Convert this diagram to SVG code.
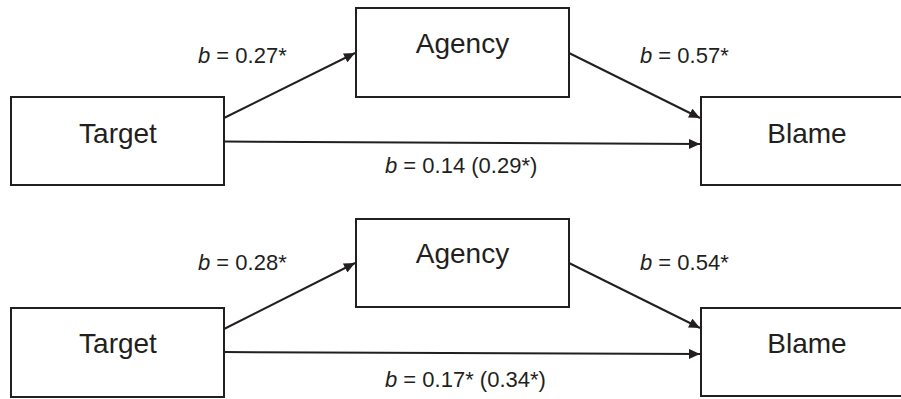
<svg xmlns="http://www.w3.org/2000/svg" width="901" height="399" viewBox="0 0 901 399">
<style>
.box{fill:#fff;stroke:#231f20;stroke-width:2}
.nt{font-family:"Liberation Sans",Arial,sans-serif;font-size:28px;fill:#231f20;text-anchor:middle}
.lb{font-family:"Liberation Sans",Arial,sans-serif;font-size:22px;fill:#231f20}
.ar{stroke:#231f20;stroke-width:2;fill:none;marker-end:url(#ah)}
</style>
<defs>
<marker id="ah" markerUnits="userSpaceOnUse" markerWidth="12" markerHeight="10" refX="11" refY="5" orient="auto">
<path d="M0,0 L11,5 L0,10 z" fill="#231f20"/>
</marker>
</defs>
<rect width="901" height="399" fill="#fff"/>
<g id="connectors">
<line class="ar" x1="224" y1="118" x2="355" y2="53"/>
<line class="ar" x1="224" y1="141.5" x2="700" y2="144"/>
<line class="ar" x1="569" y1="53" x2="700" y2="118"/>
<line class="ar" x1="224" y1="329" x2="355" y2="263"/>
<line class="ar" x1="224" y1="352" x2="700" y2="354"/>
<line class="ar" x1="569" y1="263" x2="700" y2="328"/>
</g>
<g id="labels">
<text class="lb" x="198" y="63"><tspan font-style="italic">b</tspan> = 0.27*</text>
<text class="lb" x="640" y="63"><tspan font-style="italic">b</tspan> = 0.57*</text>
<text class="lb" x="385" y="173"><tspan font-style="italic">b</tspan> = 0.14 (0.29*)</text>
<text class="lb" x="198" y="270"><tspan font-style="italic">b</tspan> = 0.28*</text>
<text class="lb" x="640" y="270"><tspan font-style="italic">b</tspan> = 0.54*</text>
<text class="lb" x="385" y="387"><tspan font-style="italic">b</tspan> = 0.17* (0.34*)</text>
</g>
<g id="target1"><rect class="box" x="11" y="97" width="213" height="88"/><text class="nt" x="118" y="143">Target</text></g>
<g id="agency1"><rect class="box" x="356" y="8" width="213" height="89"/><text class="nt" x="462.5" y="53">Agency</text></g>
<g id="blame1"><rect class="box" x="701" y="97" width="213" height="88"/><text class="nt" x="807" y="143">Blame</text></g>
<g id="target2"><rect class="box" x="11" y="308" width="213" height="89"/><text class="nt" x="118" y="353">Target</text></g>
<g id="agency2"><rect class="box" x="356" y="219" width="213" height="88"/><text class="nt" x="462.5" y="263">Agency</text></g>
<g id="blame2"><rect class="box" x="701" y="308" width="213" height="88"/><text class="nt" x="807" y="353">Blame</text></g>
</svg>
